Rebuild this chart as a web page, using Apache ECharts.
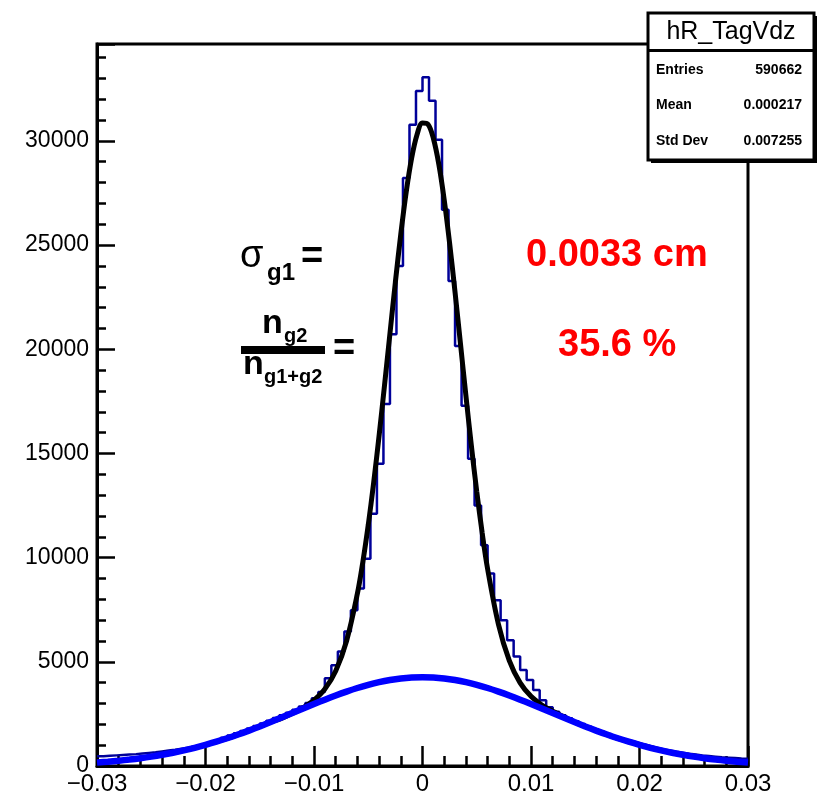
<!DOCTYPE html>
<html>
<head>
<meta charset="utf-8">
<script src="https://cdn.jsdelivr.net/npm/echarts@6.0.0/dist/echarts.min.js"></script>
<style>
  html, body { margin: 0; padding: 0; background: #fff; }
  #chart { width: 823px; height: 796px; }
</style>
</head>
<body>
<div id="chart"></div>
<script>
// histogram range and bin counts (100 bins from -0.03 to 0.03)
const xMin = -0.03
const xMax = 0.03
const histCounts = [
  470, 490, 510, 530, 550, 570, 600, 630, 660, 700,
  740, 780, 830, 880, 940, 1000, 1080, 1170, 1260, 1360,
  1460, 1570, 1680, 1800, 1920, 2040, 2170, 2300, 2430, 2560,
  2700, 2850, 3020, 3250, 3550, 4210, 4840, 5500, 6460, 7480,
  8520, 9950, 12110, 14500, 17370, 20720, 23990, 28220, 30770, 32390,
  33050, 31930, 30050, 26700, 23270, 20160, 17290, 14740, 12500, 10590,
  9235, 7960, 7000, 6040, 5250, 4610, 4130, 3650, 3150, 2820,
  2600, 2440, 2290, 2150, 2010, 1880, 1760, 1640, 1530, 1420,
  1320, 1220, 1130, 1040, 960, 880, 810, 750, 690, 640,
  590, 550, 510, 480, 450, 420, 400, 380, 360, 350
]

// total fit (black)
const fitX = [
  -0.030, -0.029, -0.028, -0.027, -0.026, -0.025, -0.024, -0.023, -0.022, -0.021,
  -0.020, -0.019, -0.018, -0.017, -0.016, -0.015, -0.014, -0.013, -0.012, -0.011,
  -0.010, -0.009, -0.008, -0.007, -0.006, -0.0055, -0.005, -0.0045, -0.004, -0.0035,
  -0.003, -0.0025, -0.002, -0.0015, -0.001, -0.0005, 0, 0.0005, 0.001, 0.0015,
  0.002, 0.0025, 0.003, 0.0035, 0.004, 0.0045, 0.005, 0.0055, 0.006, 0.007,
  0.008, 0.009, 0.010, 0.011, 0.012, 0.013, 0.014, 0.015, 0.016, 0.017,
  0.018, 0.019, 0.020, 0.021, 0.022, 0.023, 0.024, 0.025, 0.026, 0.027,
  0.028, 0.029, 0.030
]
const fitTotal = [
  168, 208, 255, 311, 376, 451, 538, 637, 749, 874,
  1013, 1165, 1331, 1509, 1699, 1899, 2108, 2282, 2526, 2795,
  3156, 3691, 4562, 6001, 8273, 9787, 11568, 13601, 15856, 18270,
  20760, 23221, 25526, 27553, 29182, 30310, 30862, 30799, 30128, 28893,
  27175, 25082, 22736, 20260, 17778, 15387, 13175, 11190, 9462, 6798,
  5055, 3988, 3342, 2926, 2629, 2374, 2108, 1899, 1699, 1509,
  1331, 1165, 1013, 874, 749, 637, 538, 451, 376, 311,
  255, 208, 168
]

// wide gaussian component (blue), every 0.001 from -0.03 to 0.03
const fitWide = [
  168, 208, 255, 311, 376, 451, 538, 637, 749, 874,
  1013, 1165, 1331, 1509, 1699, 1899, 2108, 2323, 2541, 2759,
  2975, 3184, 3385, 3572, 3743, 3894, 4022, 4124, 4199, 4245,
  4260,
  4245, 4199, 4124, 4022, 3894, 3743, 3572, 3385, 3184, 2975,
  2759, 2541, 2323, 2108, 1899, 1699, 1509, 1331, 1165, 1013,
  874, 749, 637, 538, 451, 376, 311, 255, 208, 168
]

const statsTitle = 'hR_TagVdz'
const statsLabels = ['Entries', 'Mean', 'Std Dev']
const statsValues = ['590662', '0.000217', '0.007255']
const sigmaText = '0.0033 cm'
const fracText = '35.6 %'

const FONT = '"Liberation Sans", Arial, Helvetica, sans-serif'

const binWidth = (xMax - xMin) / histCounts.length
const histData = histCounts.map((c, k) => [xMin + k * binWidth, c])
histData.push([xMax, histCounts[histCounts.length - 1]])
const wideData = fitWide.map((v, i) => [xMin + i * 0.001, v])
const totalData = fitX.map((x, i) => [x, fitTotal[i]])

const chart = echarts.init(document.getElementById('chart'), null, { renderer: 'canvas' })

function fmtX(v) {
  if (Math.abs(v) < 1e-9) return '0'
  return (v < 0 ? '\u2212' : '') + Math.abs(v).toFixed(2)
}

const txt = (x, y, text, size, opts = {}) => ({
  type: 'text', x, y, z: 100,
  style: Object.assign({
    text, fill: '#000', font: `${opts.weight || 'bold'} ${size}px ${FONT}`,
    textAlign: opts.align || 'left', textVerticalAlign: 'middle'
  }, opts.style || {})
})

chart.setOption({
  animation: false,
  backgroundColor: '#fff',
  grid: {
    left: 97, right: 75, top: 44, bottom: 28,
    show: true, borderColor: '#000', borderWidth: 3, backgroundColor: 'transparent'
  },
  xAxis: {
    type: 'value', min: xMin, max: xMax, interval: 0.01,
    axisLine: { onZero: false, lineStyle: { color: '#000', width: 3 } },
    axisTick: { inside: true, length: 20, lineStyle: { color: '#000', width: 2.5 } },
    minorTick: { show: true, splitNumber: 5, length: 10, lineStyle: { color: '#000', width: 2.5 } },
    splitLine: { show: false },
    axisLabel: { color: '#000', fontSize: 24, fontFamily: FONT, margin: 6, formatter: fmtX }
  },
  yAxis: {
    type: 'value', min: 0, max: 34650, interval: 5000,
    axisLine: { show: true, onZero: false, lineStyle: { color: '#000', width: 3 } },
    axisTick: { show: true, inside: true, length: 18, lineStyle: { color: '#000', width: 2.5 } },
    minorTick: { show: true, splitNumber: 5, length: 9, lineStyle: { color: '#000', width: 2.5 } },
    splitLine: { show: false },
    axisLabel: {
      color: '#000', fontSize: 23, fontFamily: FONT, margin: 8, showMaxLabel: false,
      formatter: v => String(Math.round(v))
    }
  },
  series: [
    {
      name: 'hist', type: 'line', step: 'end', data: histData, symbol: 'none', z: 2,
      lineStyle: { color: '#000099', width: 2.5 }
    },
    {
      name: 'total', type: 'line', smooth: 0.35, data: totalData, symbol: 'none', z: 3,
      lineStyle: { color: '#000', width: 5 }
    },
    {
      name: 'wide', type: 'line', smooth: 0.35, data: wideData, symbol: 'none', z: 4,
      lineStyle: { color: '#0000ff', width: 6.5 }
    }
  ],
  graphic: [
    // stats box with shadow
    { type: 'rect', z: 90, shape: { x: 651, y: 16, width: 166, height: 147 }, style: { fill: '#000' } },
    { type: 'rect', z: 91, shape: { x: 648, y: 13, width: 166, height: 147 }, style: { fill: '#fff', stroke: '#000', lineWidth: 3 } },
    { type: 'line', z: 92, shape: { x1: 648, y1: 50.5, x2: 814, y2: 50.5 }, style: { stroke: '#000', lineWidth: 3 } },
    txt(731, 32, statsTitle, 25, { weight: 'normal', align: 'center' }),
    ...statsLabels.map((s, i) => txt(656, 70 + i * 35.5, s, 14)),
    ...statsValues.map((s, i) => txt(802, 70 + i * 35.5, s, 14, { align: 'right' })),
    // sigma_g1 =
    txt(240, 257, '\u03c3', 38, { weight: 'normal' }),
    txt(267, 273, 'g1', 24),
    txt(301, 258, '=', 38),
    // n_g2 / n_g1+g2 =
    txt(262, 324, 'n', 34),
    txt(284, 336, 'g2', 20),
    { type: 'rect', z: 100, shape: { x: 241, y: 346, width: 84, height: 8 }, style: { fill: '#000' } },
    txt(243, 365, 'n', 34),
    txt(264, 377, 'g1+g2', 20),
    txt(333, 350, '=', 38),
    // red results
    txt(526, 256, sigmaText, 38, { style: { fill: '#ff0000' } }),
    txt(558, 346, fracText, 38, { style: { fill: '#ff0000' } })
  ]
})
</script>
</body>
</html>
